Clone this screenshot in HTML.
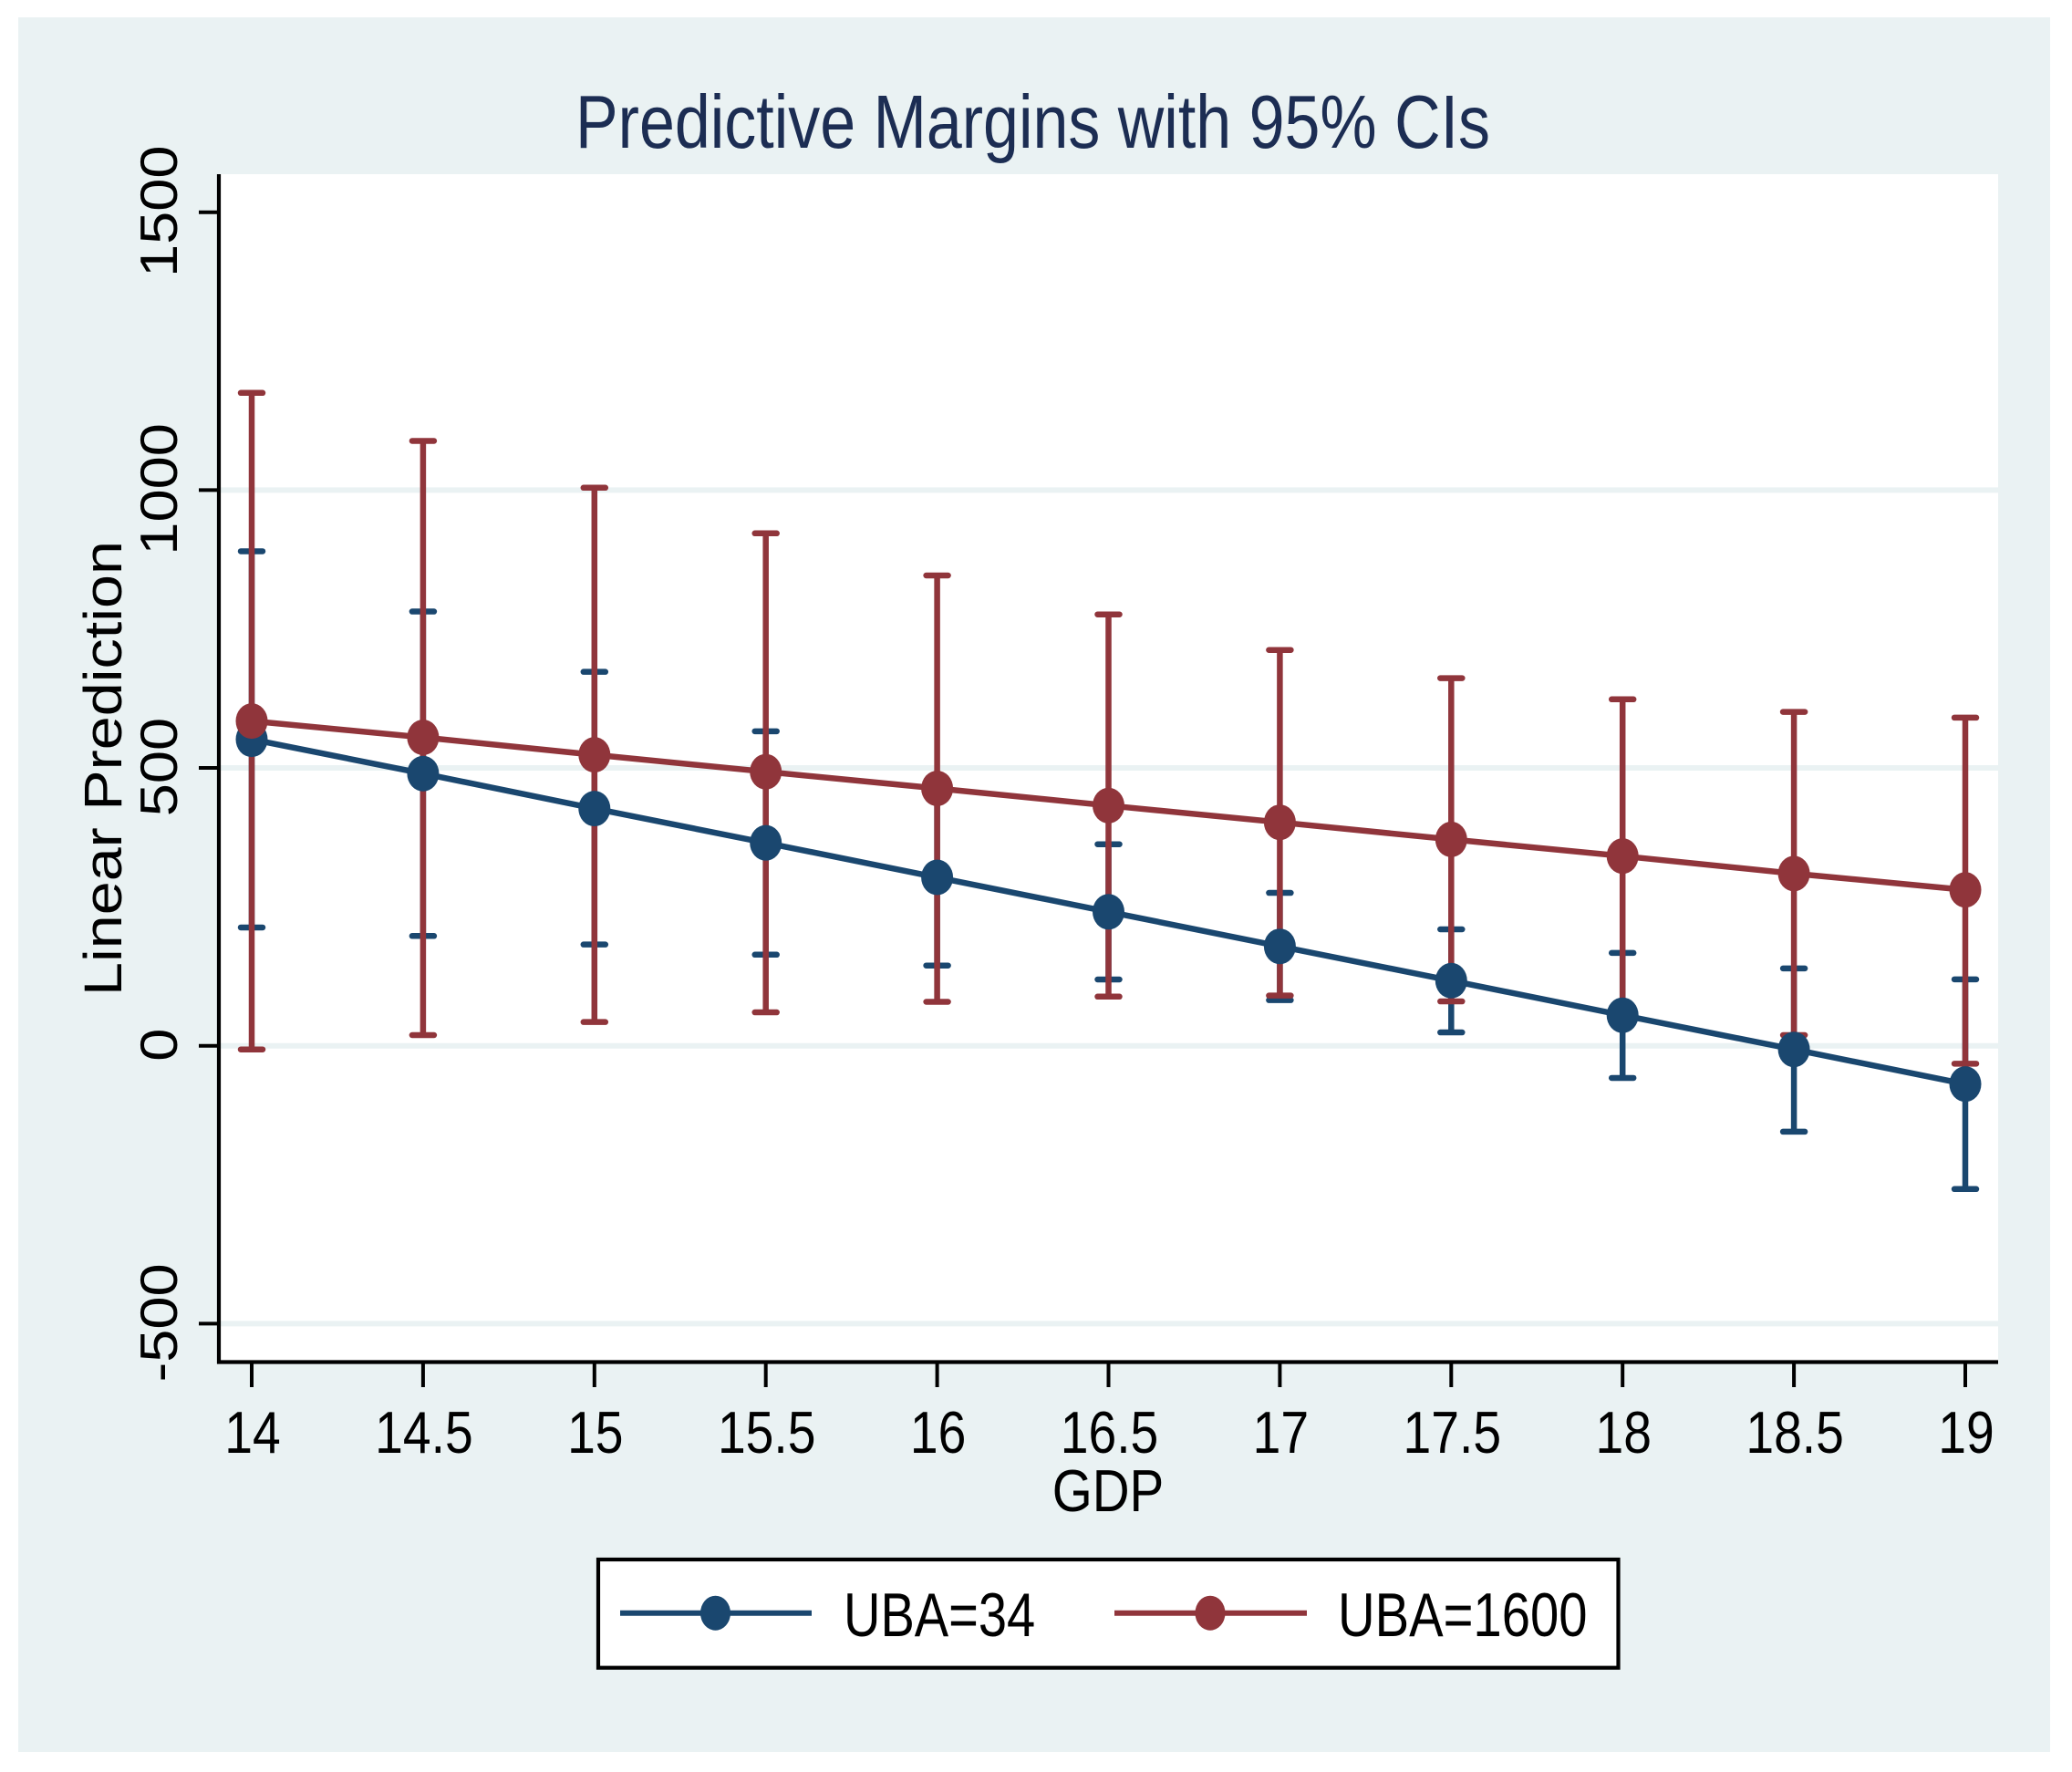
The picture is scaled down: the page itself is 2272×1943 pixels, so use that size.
<!DOCTYPE html>
<html lang="en">
<head>
<meta charset="utf-8">
<title>Predictive Margins with 95% CIs</title>
<style>
html,body{margin:0;padding:0;background:#fff;}
svg{display:block;}
text{font-family:"Liberation Sans",Arial,sans-serif;fill:#000;}
</style>
</head>
<body>
<svg id="chart" xmlns="http://www.w3.org/2000/svg" width="2272" height="1943" viewBox="0 0 2272 1943">
  <rect x="20" y="19" width="2228" height="1902" fill="#eaf2f3"/>
  <rect x="240" y="191" width="1951" height="1303" fill="#ffffff"/>
  <text x="631" y="162" font-size="83" textLength="1003" lengthAdjust="spacingAndGlyphs" style="fill:#1c2d53">Predictive Margins with 95% CIs</text>
  <g id="grid"></g>
  <g id="ci-blue"></g>
  <g id="ci-red"></g>
  <g id="series-blue"></g>
  <g id="series-red"></g>
  <g id="axes"></g>
  <text transform="translate(133,1092) rotate(-90) scale(1,0.88)" font-size="66.5">Linear Prediction</text>
  <text transform="translate(1215,1657) scale(0.87,1)" font-size="65" text-anchor="middle">GDP</text>
  <g>
    <rect x="656" y="1710" width="1118.5" height="118.7" fill="#ffffff" stroke="#000000" stroke-width="4.2"/>
    <line x1="680" y1="1768.7" x2="890" y2="1768.7" stroke="#1a476f" stroke-width="6"/>
    <ellipse cx="784.5" cy="1768.7" rx="16.5" ry="19" fill="#1a476f"/>
    <text transform="translate(925,1794) scale(0.83,1)" font-size="67.5">UBA=34</text>
    <line x1="1222" y1="1768.7" x2="1433" y2="1768.7" stroke="#90353b" stroke-width="6"/>
    <ellipse cx="1327" cy="1768.7" rx="16.5" ry="19" fill="#90353b"/>
    <text transform="translate(1467,1794) scale(0.833,1)" font-size="67.5">UBA=1600</text>
  </g>
</svg>
<script>
const gdpValues = [14, 14.5, 15, 15.5, 16, 16.5, 17, 17.5, 18, 18.5, 19];
const xTickLabels = ["14", "14.5", "15", "15.5", "16", "16.5", "17", "17.5", "18", "18.5", "19"];
const yTickValues = [-500, 0, 500, 1000, 1500];
const yTickLabels = ["-500", "0", "500", "1000", "1500"];
const gridValues = [-500, 0, 500, 1000];

const blueMean = [551.5, 489.9, 426.9, 365.2, 303.1, 241.1, 178.9, 117.2, 55, -6.6, -68.9];
const blueUpper = [889.9, 781.5, 673, 566, 460.7, 362.7, 275.2, 209.6, 167.1, 139.2, 119.5];
const blueLower = [212.9, 197.6, 182.2, 164, 144.4, 119.3, 82.1, 24.1, -57.9, -154.6, -257.8];

const redMean = [584.4, 555, 523.6, 493.2, 463.2, 432.3, 402.1, 371.4, 341.4, 309.9, 280.6];
const redUpper = [1175, 1088.5, 1004.3, 922.2, 846.4, 776.3, 712.3, 661.6, 623.5, 600.9, 590.5];
const redLower = [-6.6, 19.2, 42.7, 60.2, 79.1, 88.5, 90.3, 79.9, 55.8, 19.2, -32.2];

const BLUE = '#1a476f';
const RED = '#90353b';
const GRID = '#eaf2f3';
const NS = 'http://www.w3.org/2000/svg';

function xScale(v) { return 276 + (v - 14) * 375.8; }
function yScale(v) { return 1146.7 - v * 0.6093; }

function mk(tag, parent, props) {
  const node = document.createElementNS(NS, tag);
  for (const key in props) node.setAttribute(key, props[key]);
  parent.appendChild(node);
  return node;
}

function drawCI(group, upper, lower, color, prefix) {
  const g = document.getElementById(group);
  gdpValues.forEach(function (v, i) {
    const x = xScale(v);
    const stem = mk('line', g, {x1: x, x2: x, y1: yScale(upper[i]), y2: yScale(lower[i]), stroke: color, 'stroke-width': 6.5});
    
    
    const capTop = mk('line', g, {x1: x - 12, x2: x + 12, y1: yScale(upper[i]), y2: yScale(upper[i]), stroke: color, 'stroke-width': 6.5, 'stroke-linecap': 'round'});
    
    
    const capBottom = mk('line', g, {x1: x - 12, x2: x + 12, y1: yScale(lower[i]), y2: yScale(lower[i]), stroke: color, 'stroke-width': 6.5, 'stroke-linecap': 'round'});
    
    
  });
}

function drawSeries(group, mean, color, prefix) {
  const g = document.getElementById(group);
  const pts = gdpValues.map(function (v, i) { return xScale(v) + ',' + yScale(mean[i]); }).join(' ');
  const path = mk('polyline', g, {points: pts, fill: 'none', stroke: color, 'stroke-width': 6.5});
  
  
  gdpValues.forEach(function (v, i) {
    const dot = mk('ellipse', g, {cx: xScale(v), cy: yScale(mean[i]), rx: 17.5, ry: 19.5, fill: color});
    
    
  });
}

const gridGroup = document.getElementById('grid');
gridValues.forEach(function (v) {
  const gl = mk('line', gridGroup, {x1: 242, x2: 2191, y1: yScale(v), y2: yScale(v), stroke: GRID, 'stroke-width': 6});
  
  
});

drawCI('ci-blue', blueUpper, blueLower, BLUE, 'uba-34');
drawCI('ci-red', redUpper, redLower, RED, 'uba-1600');
drawSeries('series-blue', blueMean, BLUE, 'uba-34');
drawSeries('series-red', redMean, RED, 'uba-1600');

const axes = document.getElementById('axes');
const yAxisLine = mk('line', axes, {x1: 240, x2: 240, y1: 191, y2: 1495.5, stroke: '#000', 'stroke-width': 4.2});


const xAxisLine = mk('line', axes, {x1: 238, x2: 2191, y1: 1493.5, y2: 1493.5, stroke: '#000', 'stroke-width': 4.2});



yTickValues.forEach(function (v, i) {
  const y = yScale(v);
  const tick = mk('line', axes, {x1: 218, x2: 238, y1: y, y2: y, stroke: '#000', 'stroke-width': 4});
  
  
  const label = mk('text', axes, {transform: 'translate(194,' + (y - 1) + ') rotate(-90) scale(1,0.88)', 'font-size': 65, 'text-anchor': 'middle'});
  label.textContent = yTickLabels[i];
  
  
});

gdpValues.forEach(function (v, i) {
  const x = xScale(v);
  const tick = mk('line', axes, {x1: x, x2: x, y1: 1495, y2: 1521, stroke: '#000', 'stroke-width': 4});
  
  
  const label = mk('text', axes, {transform: 'translate(' + (x + 1) + ',1593) scale(0.85,1)', 'font-size': 65, 'text-anchor': 'middle'});
  label.textContent = xTickLabels[i];
  
  
});
</script>
</body>
</html>
